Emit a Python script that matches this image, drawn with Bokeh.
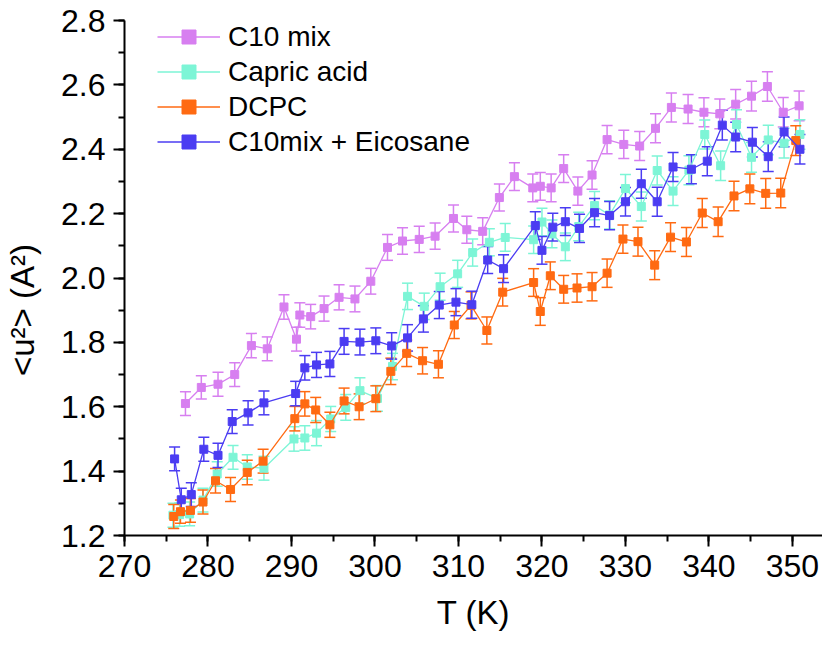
from bokeh.plotting import figure
from bokeh.models import (ColumnDataSource, Whisker, TeeHead, Legend, LegendItem, Range1d,
                          SingleIntervalTicker, PrintfTickFormatter)
from bokeh.embed import file_html
from bokeh.resources import INLINE

# ---------------- data ----------------
T_c10 = [277.3, 279.2, 281.2, 283.2, 285.2, 287.1, 289.1, 290.6, 291.0, 292.3, 293.9, 295.7, 297.6, 299.5,
         301.5, 303.3, 305.3, 307.2, 309.4, 311.0, 312.9, 314.9, 316.7, 318.9, 319.8, 321.1, 322.6, 324.3,
         326.0, 327.8, 329.8, 331.7, 333.6, 335.5, 337.5, 339.4, 341.3, 343.2, 345.1, 347.0, 348.9, 350.8]
u_c10 = [1.61, 1.66, 1.67, 1.70, 1.79, 1.78, 1.91, 1.81, 1.885, 1.88, 1.905, 1.94, 1.935, 1.99,
         2.095, 2.115, 2.12, 2.13, 2.185, 2.15, 2.145, 2.25, 2.315, 2.28, 2.285, 2.28, 2.34, 2.27,
         2.32, 2.43, 2.415, 2.41, 2.465, 2.53, 2.525, 2.515, 2.51, 2.54, 2.565, 2.595, 2.515, 2.535]

T_cap = [275.8, 276.6, 277.8, 279.4, 281.1, 283.0, 284.7, 286.7, 290.3, 291.6, 293.0, 294.7, 296.5, 298.2,
         300.3, 302.1, 303.9, 305.9, 307.8, 309.9, 311.7, 313.7, 315.6, 319.0, 320.0, 321.2, 322.8, 324.4,
         326.3, 328.1, 330.0, 331.9, 333.8, 335.7, 337.6, 339.5, 341.4, 343.3, 345.1, 347.1, 349.0, 350.9]
u_cap = [1.263, 1.265, 1.267, 1.31, 1.391, 1.443, 1.413, 1.409, 1.50, 1.503, 1.518, 1.562, 1.598, 1.650,
         1.626, 1.725, 1.943, 1.912, 1.973, 2.013, 2.079, 2.111, 2.126, 2.119, 2.174, 2.137, 2.097, 2.16,
         2.225, 2.196, 2.278, 2.222, 2.334, 2.270, 2.335, 2.446, 2.349, 2.477, 2.375, 2.429, 2.419, 2.446]

T_dcpc = [275.9, 276.7, 277.9, 279.4, 280.9, 282.7, 284.7, 286.6, 290.4, 291.6, 292.9, 294.6, 296.3, 298.1,
          300.1, 301.9, 303.8, 305.7, 307.6, 309.5, 311.5, 313.4, 315.3, 319.0, 319.8, 321.0, 322.6, 324.2,
          326.0, 327.8, 329.7, 331.5, 333.5, 335.4, 337.3, 339.2, 341.1, 343.0, 344.9, 346.8, 348.6, 350.4]
u_dcpc = [1.259, 1.274, 1.278, 1.304, 1.370, 1.343, 1.396, 1.431, 1.563, 1.609, 1.590, 1.544, 1.618, 1.600,
          1.625, 1.710, 1.766, 1.743, 1.732, 1.854, 1.915, 1.837, 1.956, 1.986, 1.896, 2.007, 1.965, 1.969,
          1.973, 2.015, 2.121, 2.113, 2.040, 2.127, 2.112, 2.202, 2.175, 2.255, 2.277, 2.263, 2.264, 2.427]

T_eic = [276.0, 276.8, 278.0, 279.5, 281.2, 282.9, 284.8, 286.7, 290.5, 291.6, 293.0, 294.6, 296.3, 298.2,
         300.1, 302.0, 303.9, 305.8, 307.7, 309.7, 311.6, 313.5, 315.4, 319.2, 320.0, 321.3, 322.8, 324.5,
         326.3, 328.1, 330.0, 331.9, 333.8, 335.7, 337.9, 339.8, 341.6, 343.2, 345.2, 347.1, 349.0, 350.9]
u_eic = [1.438, 1.311, 1.327, 1.468, 1.449, 1.554, 1.581, 1.612, 1.641, 1.721, 1.730, 1.733, 1.803, 1.801,
         1.805, 1.789, 1.814, 1.873, 1.916, 1.925, 1.917, 2.056, 2.029, 2.163, 2.086, 2.158, 2.175, 2.154,
         2.203, 2.194, 2.237, 2.293, 2.237, 2.345, 2.338, 2.363, 2.475, 2.438, 2.422, 2.377, 2.454, 2.400]

u_err = [0.037, 0.036, 0.037, 0.037, 0.038, 0.037, 0.038, 0.037, 0.038, 0.038, 0.039, 0.039, 0.040, 0.040,
         0.040, 0.041, 0.041, 0.041, 0.042, 0.042, 0.042, 0.042, 0.043, 0.043, 0.043, 0.043, 0.043, 0.044,
         0.044, 0.044, 0.044, 0.045, 0.045, 0.045, 0.045, 0.045, 0.046, 0.046, 0.046, 0.046, 0.046, 0.046]

series_names = ["C10 mix", "Capric acid", "DCPC", "C10mix + Eicosane"]
series_colors = ["#D77FF0", "#7DF5D6", "#FF6A12", "#4B3CF2"]
series_T = [T_c10, T_cap, T_dcpc, T_eic]
series_u = [u_c10, u_cap, u_dcpc, u_eic]

FONT = "Liberation Sans"

p = figure(width=822, height=633, output_backend="svg", toolbar_location=None,
           x_range=Range1d(270, 353.6), y_range=Range1d(1.2, 2.8001),
           min_border_top=20, min_border_left=124, min_border_right=0, min_border_bottom=0)
p.outline_line_color = None
p.xgrid.visible = False
p.ygrid.visible = False
p.background_fill_color = "white"
p.border_fill_color = "white"

items = []
for name, col, T, u in zip(series_names, series_colors, series_T, series_u):
    src = ColumnDataSource(dict(x=T, y=u,
                                lo=[a - e for a, e in zip(u, u_err)],
                                hi=[a + e for a, e in zip(u, u_err)]))
    w = Whisker(base="x", lower="lo", upper="hi", source=src, line_color=col, line_width=1.5,
                upper_head=TeeHead(size=11, line_color=col, line_width=1.5),
                lower_head=TeeHead(size=11, line_color=col, line_width=1.5))
    p.add_layout(w)
    ln = p.line("x", "y", source=src, line_color=col, line_width=1.3)
    sc = p.scatter("x", "y", source=src, marker="square", size=8, fill_color=col, line_color=col)
    items.append(LegendItem(label=name, renderers=[ln, sc]))

legend = Legend(items=items, location=(33, 376), orientation="vertical",
                glyph_width=63, glyph_height=35, label_height=35, spacing=0,
                label_standoff=8, padding=0, margin=0,
                border_line_color=None, background_fill_alpha=0,
                label_text_font=FONT, label_text_font_size="28px", label_text_color="black")
p.add_layout(legend)

for ax in (p.xaxis[0], p.yaxis[0]):
    ax.axis_line_width = 2
    ax.axis_line_color = "black"
    ax.major_tick_line_width = 2
    ax.minor_tick_line_width = 2
    ax.major_tick_out = 11
    ax.major_tick_in = 0
    ax.minor_tick_out = 6
    ax.minor_tick_in = 0
    ax.major_label_text_font = FONT
    ax.major_label_text_font_size = "32px"
    ax.major_label_text_color = "black"
    ax.axis_label_text_font = FONT
    ax.axis_label_text_font_size = "33px"
    ax.axis_label_text_font_style = "normal"
    ax.axis_label_text_color = "black"

p.xaxis[0].ticker = SingleIntervalTicker(interval=10, num_minor_ticks=2)
p.yaxis[0].ticker = SingleIntervalTicker(interval=0.2, num_minor_ticks=2)
p.yaxis[0].formatter = PrintfTickFormatter(format="%.1f")
p.xaxis[0].axis_label = "T (K)"
p.yaxis[0].axis_label = "<u²> (A²)" + "\u00a0" * 7
p.xaxis[0].major_label_standoff = 8
p.yaxis[0].major_label_standoff = 8
p.xaxis[0].axis_label_standoff = 14
p.yaxis[0].axis_label_standoff = 17

open("out.html", "w").write(file_html(p, INLINE))
